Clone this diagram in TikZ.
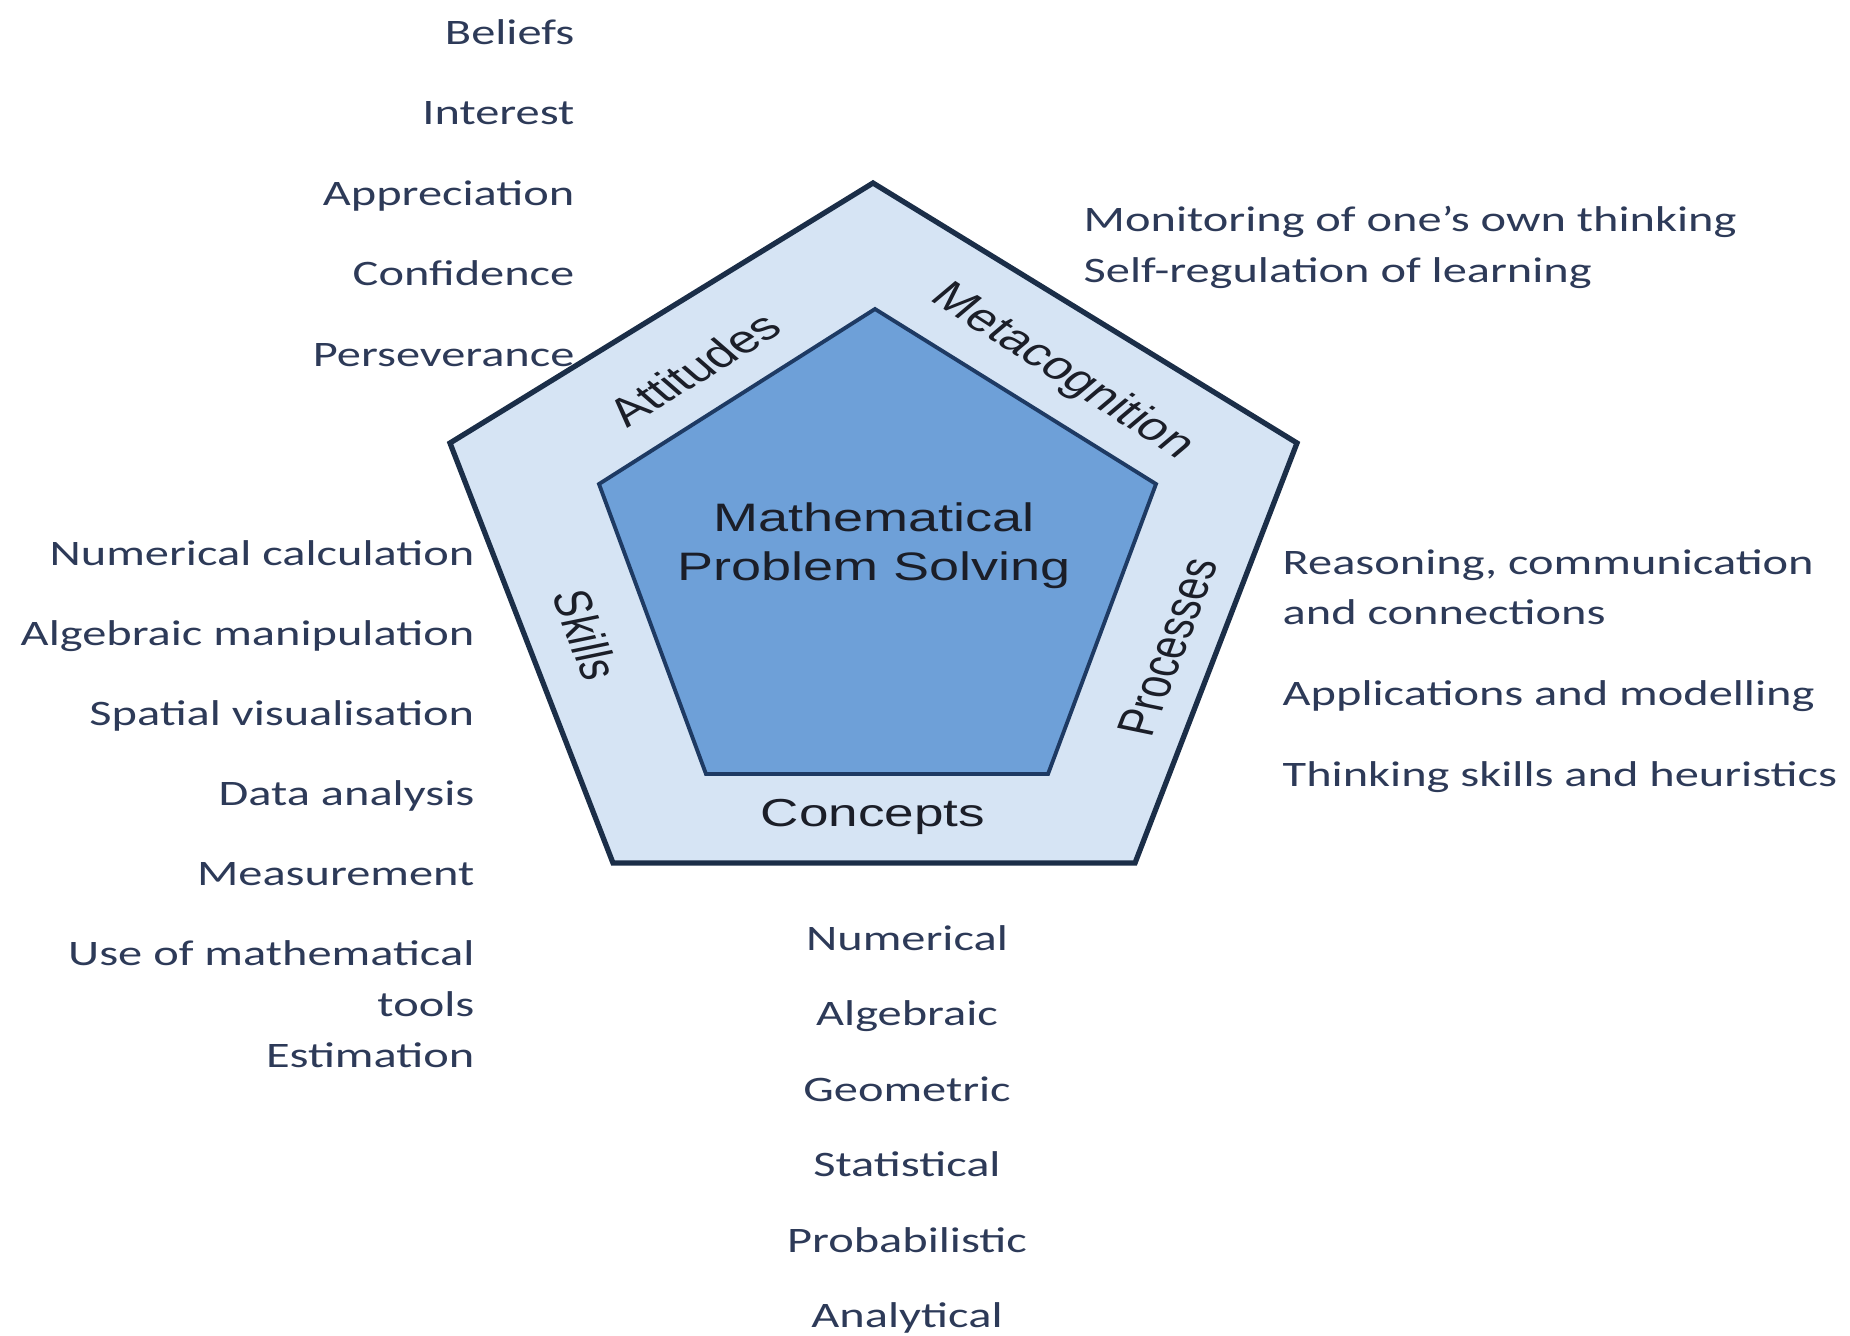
\documentclass[tikz,border=0pt]{standalone}
\usepackage{fontspec}
\setmainfont[FakeStretch=1.35]{Carlito}
\newfontfamily\labfont{Liberation Sans}
\usepackage{tikz}
\usetikzlibrary{matrix}
\definecolor{rim}{HTML}{1B2E48}
\definecolor{ring}{HTML}{D6E4F4}
\definecolor{core}{HTML}{6EA0D8}
\definecolor{coreline}{HTML}{1E3A63}
\definecolor{txt}{HTML}{2D3A58}
\definecolor{labtxt}{HTML}{1B1E28}
\tikzstyle{lst}=[matrix of nodes,inner sep=0pt,nodes={inner sep=0pt,text=txt,font=\fontsize{10.2}{12}\selectfont,text height=7.5pt,text depth=2.5pt}]
\tikzstyle{lab}=[inner sep=0pt,text=labtxt,font=\labfont\fontsize{11.1}{13}\selectfont,xscale=1.36]

\begin{document}
\begin{tikzpicture}
	\useasboundingbox (0,0) rectangle (18.5,-13.35);
	\draw[rim,line width=1.5pt,fill=ring] (8.73,-1.83) -- (12.97,-4.43) -- (11.35,-8.63) -- (6.13,-8.63) -- (4.50,-4.43) -- cycle;
	\draw[coreline,line width=1.1pt,fill=core] (8.75,-3.09) -- (11.56,-4.84) -- (10.48,-7.74) -- (7.06,-7.74) -- (5.99,-4.84) -- cycle;
	\node[lab,align=center,font=\labfont\fontsize{11.3}{14}\selectfont] (mps) at (8.74,-5.46) {Mathematical\\Problem Solving};
	\node[lab,rotate=40.2]  (atd) at (6.94,-3.69) {Attitudes};
	\node[lab,rotate=-41.1] (mtc) at (10.62,-3.72) {Metacognition};
	\node[lab,rotate=-74.3] (skl) at (5.86,-6.35) {Skills};
	\node[lab,rotate=74.3]  (prc) at (11.68,-6.47) {Processes};
	\node[lab]              (cnc) at (8.73,-8.17) {Concepts};
	% lists round the pentagon
	\matrix (atdl) [lst,row sep={0.805cm,between origins},column 1/.style={anchor=base east},anchor=north east] at (5.75,-0.17) {
	  Beliefs \\ Interest \\ Appreciation \\ Confidence \\ Perseverance \\
	};
	\matrix (mtcl) [lst,row sep={0.51cm,between origins},column 1/.style={anchor=base west},anchor=north west] at (10.83,-2.04) {
	  Monitoring of one’s own thinking \\ Self-regulation of learning \\
	};
	\matrix (prcl) [lst,row sep={0.81cm,between origins},column 1/.style={anchor=base west},anchor=north west] at (12.82,-5.47) {
	  Reasoning, communication \\[-0.31cm] and connections \\ Applications and modelling \\ Thinking skills and heuristics \\
	};
	\matrix (skll) [lst,row sep={0.80cm,between origins},column 1/.style={anchor=base east},anchor=north east] at (4.75,-5.38) {
	  Numerical calculation \\ Algebraic manipulation \\ Spatial visualisation \\ Data analysis \\ Measurement \\
	  Use of mathematical \\[-0.29cm] tools \\[-0.29cm] Estimation \\
	};
	\matrix (cncl) [lst,row sep={0.755cm,between origins},column 1/.style={anchor=base},anchor=north] at (9.07,-9.23) {
	  Numerical \\ Algebraic \\ Geometric \\ Statistical \\ Probabilistic \\ Analytical \\
	};
\end{tikzpicture}
\end{document}
